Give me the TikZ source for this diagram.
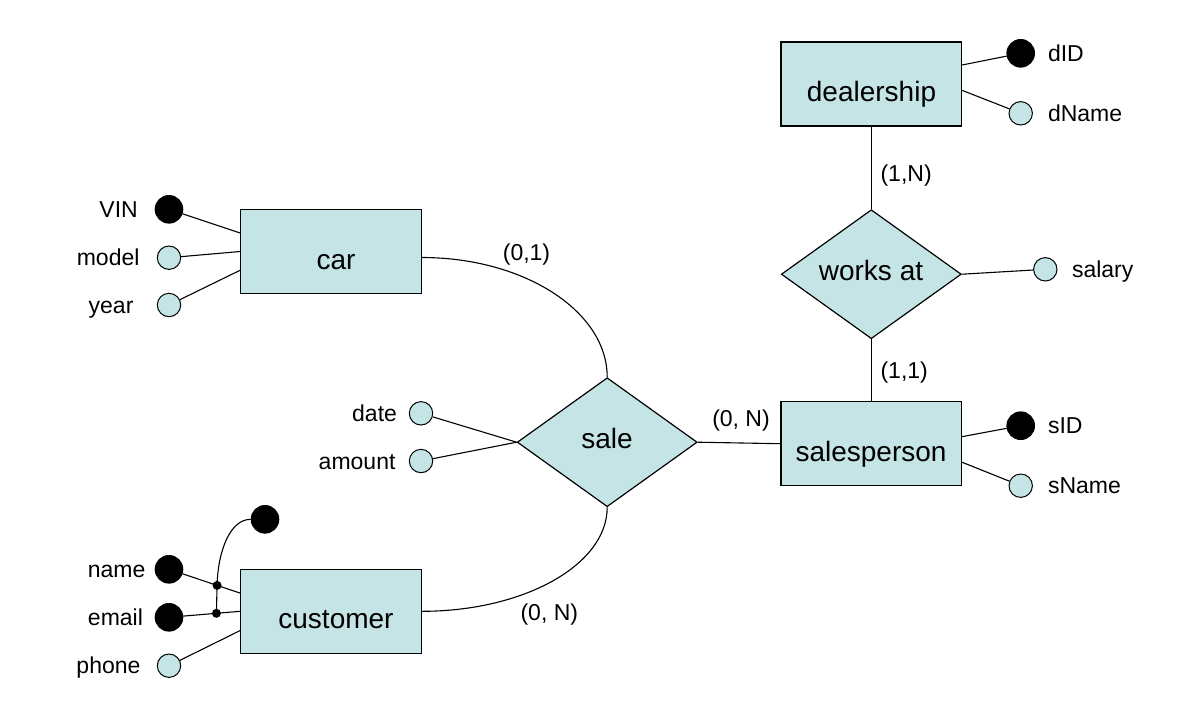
\documentclass[tikz,border=0pt]{standalone}
\usepackage{fontspec}
\setmainfont{Liberation Sans}
\usetikzlibrary{shapes.geometric,calc}
\definecolor{erfill}{RGB}{197,228,229}
\begin{document}
\begin{tikzpicture}[x=1pt,y=-1pt,
  line width=1.1pt,
  entity/.style={draw,fill=erfill,minimum width=180.5pt,minimum height=84pt,inner sep=0pt,line width=1.3pt},
  rel/.style={draw,fill=erfill,diamond,minimum width=180pt,minimum height=129pt,inner sep=0pt,line width=1.2pt},
  big/.style={font=\fontsize{28}{32}\selectfont,anchor=base,inner sep=0pt},
  lbl/.style={font=\fontsize{23}{27}\selectfont,inner sep=0pt},
  keyattr/.style={circle,fill=black,draw=black,line width=1pt,minimum size=27.6pt,inner sep=0pt},
  attr/.style={circle,fill=erfill,draw=black,line width=1pt,minimum size=23.4pt,inner sep=0pt},
  jdot/.style={circle,fill=black,minimum size=9pt,inner sep=0pt}
]
\useasboundingbox (0,0) rectangle (1191,716);

% entities
\node[entity] (car) at (331,251.5) {};
\node[entity] (customer) at (331,611.3) {};
\node[entity] (dealership) at (871.3,84) {};
\node[entity] (salesperson) at (871.3,443.7) {};
\node[big] (cart) at (336,269.3) {car};
\node[big] (customert) at (336,628.5) {customer};
\node[big] (dealershipt) at (871.5,101) {dealership};
\node[big] (salespersont) at (871,461) {salesperson};

% relationships
\node[rel] (sale) at (607.2,442.2) {};
\node[rel] (works) at (871.3,274.2) {};
\node[big] (salet) at (607,448.5) {sale};
\node[big] (workst) at (871,280.2) {works at};

% attributes
\node[keyattr] (vin) at (169,209.3) {};
\node[attr] (model) at (169,257.7) {};
\node[attr] (year) at (169,305) {};
\node[keyattr] (name) at (169,569.3) {};
\node[keyattr] (email) at (169,617.3) {};
\node[attr] (phone) at (169,665.7) {};
\node[keyattr] (ckey) at (265,519.3) {};
\node[attr] (date) at (421,413.3) {};
\node[attr] (amount) at (421,461) {};
\node[keyattr] (did) at (1020.7,53.3) {};
\node[attr] (dname) at (1020.7,113.3) {};
\node[attr] (salary) at (1045.3,269.3) {};
\node[keyattr] (sid) at (1020.7,425.7) {};
\node[attr] (sname) at (1020.7,485.7) {};

% attribute labels
\node[lbl,anchor=base east] (vinl) at (138.3,217.3) {VIN};
\node[lbl,anchor=base east] (modell) at (140,265.7) {model};
\node[lbl,anchor=base east] (yearl) at (134,313) {year};
\node[lbl,anchor=base east] (namel) at (146,577.3) {name};
\node[lbl,anchor=base east] (emaill) at (143.5,625.3) {email};
\node[lbl,anchor=base east] (phonel) at (141,673.7) {phone};
\node[lbl,anchor=base east] (datel) at (397.5,421.3) {date};
\node[lbl,anchor=base east] (amountl) at (396,469) {amount};
\node[lbl,anchor=base west] (didl) at (1047.5,61.3) {dID};
\node[lbl,anchor=base west] (dnamel) at (1047.5,121.3) {dName};
\node[lbl,anchor=base west] (salaryl) at (1071.5,277.3) {salary};
\node[lbl,anchor=base west] (sidl) at (1047.5,433.7) {sID};
\node[lbl,anchor=base west] (snamel) at (1047.5,493.7) {sName};

% cardinalities
\node[lbl,anchor=base west] (c01) at (502.3,260.7) {(0,1)};
\node[lbl,anchor=base west] (c0nb) at (520,620) {(0, N)};
\node[lbl,anchor=base west] (c0ns) at (711.7,426) {(0, N)};
\node[lbl,anchor=base west] (c1n) at (880,181.7) {(1,N)};
\node[lbl,anchor=base west] (c11) at (880,378.3) {(1,1)};

% attachment points
\coordinate (carA1) at ($(car.north west)!0.283!(car.south west)$);
\coordinate (carA2) at ($(car.north west)!0.5!(car.south west)$);
\coordinate (carA3) at ($(car.north west)!0.72!(car.south west)$);
\coordinate (cusA1) at ($(customer.north west)!0.286!(customer.south west)$);
\coordinate (cusA2) at ($(customer.north west)!0.5!(customer.south west)$);
\coordinate (cusA3) at ($(customer.north west)!0.726!(customer.south west)$);
\coordinate (deaA1) at ($(dealership.north east)!0.277!(dealership.south east)$);
\coordinate (deaA2) at ($(dealership.north east)!0.575!(dealership.south east)$);
\coordinate (salA1) at ($(salesperson.north east)!0.417!(salesperson.south east)$);
\coordinate (salA2) at ($(salesperson.north east)!0.718!(salesperson.south east)$);
\coordinate (carR) at ($(car.east)+(0,6)$);

% connectors
\draw (vin) -- (carA1);
\draw (model) -- (carA2);
\draw (year) -- (carA3);
\draw (name) -- (cusA1);
\draw (email) -- (cusA2);
\draw (phone) -- (cusA3);
\draw (did) -- (deaA1);
\draw (dname) -- (deaA2);
\draw (sid) -- (salA1);
\draw (sname) -- (salA2);
\draw (date) -- (sale.west);
\draw (amount) -- (sale.west);
\draw (salary) -- (works.east);
\draw (sale.east) -- (salesperson.west);
\draw (dealership.south) -- (works.north);
\draw (works.south) -- (salesperson.north);
\draw (carR) .. controls +(102,0) and +(0,-66) .. (sale.north);
\draw (customer.east) .. controls +(102,0) and +(0,57.6) .. (sale.south);

% composite key junctions
\node[jdot] (jd1) at ($(name.center)!0.676!(cusA1)$) {};
\node[jdot] (jd2) at ($(email.center)!0.667!(cusA2)$) {};
\draw (jd1.center) -- (jd2.center);
\draw (jd1.center) .. controls +(1,-36) and +(-20,0) .. (ckey.west);
\end{tikzpicture}
\end{document}
